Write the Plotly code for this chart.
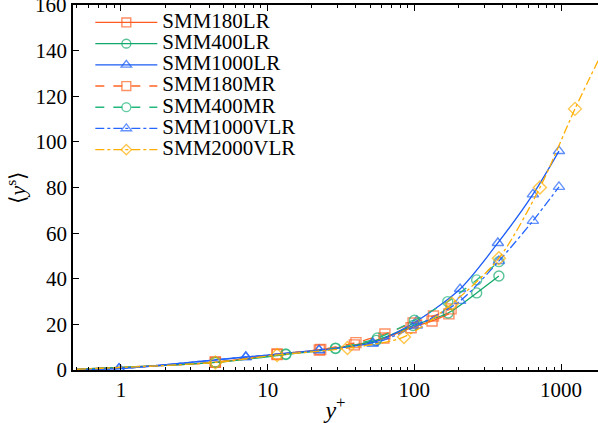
import plotly.graph_objects as go

# ---- data ----
x180lr = [0.5, 4.4, 11.6, 22.5, 39, 62, 95, 132, 172]
y180lr = [0.3, 3.4, 6.8, 8.8, 11.0, 14.0, 18.5, 21.5, 24.6]
x180mr = [0.5, 4.4, 11.6, 23, 40, 63, 98, 135, 178]
y180mr = [0.3, 3.5, 7.0, 9.0, 12.0, 15.8, 20.6, 23.7, 26.8]
x400lr = [0.5, 4.4, 13.3, 29, 55, 98, 170, 266, 377]
y400lr = [0.3, 3.3, 6.8, 9.4, 13.0, 19.5, 25.0, 33.8, 41.2]
x400mr = [0.5, 4.4, 13.3, 29, 56, 100, 169, 266, 377]
y400mr = [0.3, 3.4, 7.0, 9.6, 14.0, 21.8, 30.0, 39.5, 47.5]
x1000lr = [0.5, 0.97, 7.1, 22.4, 52, 104, 205, 371, 643, 968]
y1000lr = [0.2, 0.6, 5.7, 8.8, 12.0, 21.5, 35.5, 55.7, 77.0, 96.0]
x1000vlr = [0.5, 0.97, 7.1, 22.4, 52, 104, 205, 377, 643, 968]
y1000vlr = [0.2, 0.6, 5.7, 8.6, 11.5, 19.5, 30.3, 47.8, 65.4, 80.3]
x2000vlr = [0.5, 4.4, 11.6, 35, 85, 180, 377, 718, 1245, 2000]
y2000vlr = [0.3, 3.3, 6.6, 9.6, 14.5, 29.0, 49.0, 80.0, 114.5, 142.0]

y_ticks = [0, 20, 40, 60, 80, 100, 120, 140, 160]

series = [
    ("SMM180LR", x180lr, y180lr, "#FF5A1F", "solid", "square-open"),
    ("SMM400LR", x400lr, y400lr, "#12A86B", "solid", "circle-open"),
    ("SMM1000LR", x1000lr, y1000lr, "#1A5CF5", "solid", "triangle-up-open"),
    ("SMM180MR", x180mr, y180mr, "#FF6424", "dash", "square-open"),
    ("SMM400MR", x400mr, y400mr, "#22B87E", "dash", "circle-open"),
    ("SMM1000VLR", x1000vlr, y1000vlr, "#2566FF", "dashdot", "triangle-up-open"),
    ("SMM2000VLR", x2000vlr, y2000vlr, "#FFAE00", "dashdot", "diamond-open"),
]

font = "Liberation Serif"
fig = go.Figure()
for name, xs, ys, col, dash, sym in series:
    sizes = [0] + [10] * (len(xs) - 1)
    if name == "SMM2000VLR":
        sizes[-1] = 0
    fig.add_trace(go.Scatter(
        x=xs, y=ys, mode="lines+markers",
        name="<span style='font-size:21px'>" + name + "</span>",
        line=dict(color=col, width=1.3, dash=dash, shape="spline", smoothing=0.8),
        marker=dict(symbol=sym, size=sizes, color=col, line=dict(width=1.4, color=col)),
    ))

# top tick label (plotly hides labels that cross the page edge)
fig.add_annotation(x=0, xref="paper", y=y_ticks[-1], yref="y", text=str(y_ticks[-1]),
                   showarrow=False, xanchor="right", yanchor="middle", xshift=-4,
                   font=dict(family=font, size=21, color="black"))

fig.update_layout(
    width=598, height=423,
    margin=dict(l=73, r=0, t=5, b=53),
    plot_bgcolor="white", paper_bgcolor="white",
    font=dict(family=font, size=20, color="black"),
    showlegend=True,
    legend=dict(x=0.033, y=0.995, xanchor="left", yanchor="top",
                bgcolor="rgba(0,0,0,0)", font=dict(family=font, size=14, color="black"),
                tracegroupgap=0, itemwidth=62),
    xaxis=dict(type="log", range=[-0.327, 3.252],
               showgrid=False, zeroline=False,
               showline=True, linecolor="black", linewidth=1.5, mirror="allticks",
               ticks="inside", ticklen=6, tickcolor="black",
               tickvals=[1, 10, 100, 1000], ticktext=["1", "10", "100", "1000"],
               minor=dict(ticks="inside", ticklen=3, tickcolor="black",
                          tickvals=[0.5, 0.6, 0.7, 0.8, 0.9, 2, 3, 4, 5, 6, 7, 8, 9,
                                    20, 30, 40, 50, 60, 70, 80, 90,
                                    200, 300, 400, 500, 600, 700, 800, 900]),
               tickfont=dict(family=font, size=21, color="black"),
               title=dict(text="<i>y</i><sup>+</sup>", font=dict(family=font, size=24), standoff=0)),
    yaxis=dict(range=[0, 160.05], showgrid=False, zeroline=False,
               showline=True, linecolor="black", linewidth=1.5, mirror=False,
               ticks="inside", ticklen=6, tickcolor="black",
               tickvals=y_ticks,
               tickfont=dict(family=font, size=21, color="black"),
               title=dict(text="⟨<i>y</i><sup>s</sup>⟩", font=dict(family=font, size=22), standoff=4)),
)

fig.write_html("out.html")
